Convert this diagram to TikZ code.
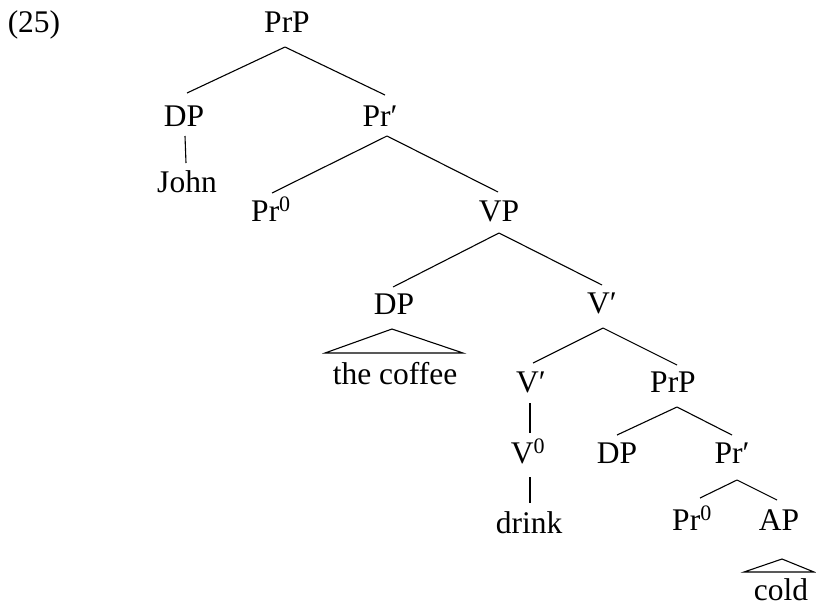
\documentclass[tikz,border=0pt]{standalone}
\usepackage{fontspec}
\setmainfont{Liberation Serif}
\begin{document}
\begin{tikzpicture}[x=1pt,y=-1pt,
  lab/.style={anchor=base,inner sep=0pt,font=\fontsize{31.5}{36}\selectfont},
  edge/.style={line width=1.1pt}]
\useasboundingbox (0,0) rectangle (816,606);
\node[lab] (n25) at (34,32) {(25)};
\node[lab] (prp) at (287,32) {PrP};
\node[lab] (dp1) at (184,126) {DP};
\node[lab] (pr1) at (380,126) {Pr′};
\node[lab] (john) at (187,192) {John};
\node[lab] (pr0a) at (271,221) {Pr\textsuperscript{0}};
\node[lab] (vp) at (499,221) {VP};
\node[lab] (dp2) at (394,314) {DP};
\node[lab] (coffee) at (395,384) {the coffee};
\node[lab] (vbar1) at (602,313) {V′};
\node[lab] (vbar2) at (531,392) {V′};
\node[lab] (prp2) at (673,392) {PrP};
\node[lab] (v0) at (528,463) {V\textsuperscript{0}};
\node[lab] (drink) at (529,533) {drink};
\node[lab] (dp3) at (617,463) {DP};
\node[lab] (pr2) at (732,463) {Pr′};
\node[lab] (pr0b) at (692,530) {Pr\textsuperscript{0}};
\node[lab] (ap) at (779,530) {AP};
\node[lab] (cold) at (781,600) {cold};
% edges
\draw[edge] ([shift={(-2,15)}]prp.base) -- ([shift={(3,-33)}]dp1.base);
\draw[edge] ([shift={(-2,15)}]prp.base) -- ([shift={(5,-31)}]pr1.base);
\draw[edge] ([shift={(1,10)}]dp1.base) -- ([shift={(-1,-29)}]john.base);
\draw[edge] ([shift={(7,10)}]pr1.base) -- ([shift={(1,-28)}]pr0a.base);
\draw[edge] ([shift={(7,10)}]pr1.base) -- ([shift={(-1,-29)}]vp.base);
\draw[edge] ([shift={(0,12)}]vp.base) -- ([shift={(-1,-27)}]dp2.base);
\draw[edge] ([shift={(0,12)}]vp.base) -- ([shift={(0,-28)}]vbar1.base);
\draw[edge] ([shift={(-2,15)}]dp2.base) -- ([shift={(-70,-31)}]coffee.base) -- ([shift={(68,-31)}]coffee.base) -- cycle;
\draw[edge] ([shift={(1,15)}]vbar1.base) -- ([shift={(2,-29)}]vbar2.base);
\draw[edge] ([shift={(1,15)}]vbar1.base) -- ([shift={(4,-27)}]prp2.base);
\draw[edge] ([shift={(-1,11)}]vbar2.base) -- ([shift={(2,-30)}]v0.base);
\draw[edge] ([shift={(2,14)}]v0.base) -- ([shift={(1,-30)}]drink.base);
\draw[edge] ([shift={(4,15)}]prp2.base) -- ([shift={(0,-28)}]dp3.base);
\draw[edge] ([shift={(4,15)}]prp2.base) -- ([shift={(0,-28)}]pr2.base);
\draw[edge] ([shift={(5,17)}]pr2.base) -- ([shift={(8,-32)}]pr0b.base);
\draw[edge] ([shift={(5,17)}]pr2.base) -- ([shift={(-2,-30)}]ap.base);
\draw[edge] ([shift={(1,-41)}]cold.base) -- ([shift={(-37,-28)}]cold.base) -- ([shift={(33,-28)}]cold.base) -- cycle;
\end{tikzpicture}
\end{document}
